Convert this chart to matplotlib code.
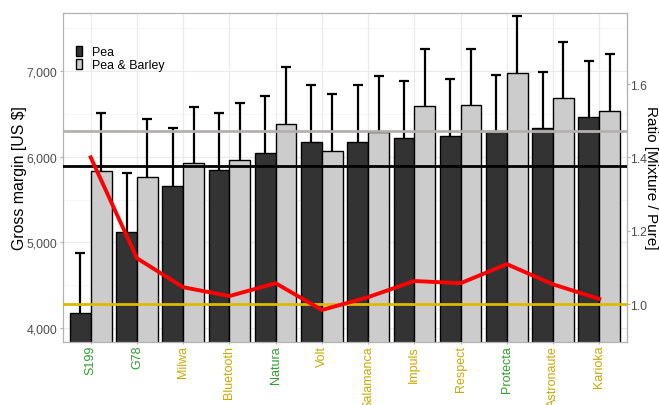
import matplotlib
matplotlib.use("Agg")
import matplotlib.pyplot as plt
import numpy as np

plt.rcParams["font.family"] = ["Liberation Sans", "DejaVu Sans"]

categories = ["S199", "G78", "Milwa", "Bluetooth", "Natura", "Volt",
              "Salamanca", "Impuls", "Respect", "Protecta", "Astronaute", "Karioka"]
label_colors = ["green", "green", "gold", "gold", "green", "gold",
                "gold", "gold", "gold", "green", "gold", "gold"]
pea_mean = [4176, 5121, 5658, 5845, 6043, 6171, 6171, 6218, 6242, 6300, 6335, 6463]
pea_err = [700, 690, 677, 665, 665, 666, 666, 665, 665, 653, 653, 654]
mix_mean = [5833, 5763, 5927, 5962, 6382, 6067, 6288, 6592, 6603, 6977, 6685, 6533]
mix_err = [677, 677, 653, 665, 665, 663, 654, 665, 654, 665, 653, 665]
ratio = [1.40, 1.125, 1.046, 1.022, 1.057, 0.984, 1.019, 1.063, 1.057, 1.109, 1.054, 1.014]
pea_avg = 5891
mix_avg = 6300
ratio_ref = 1.0
scale = 4280  # left = ratio * scale

col_map = {"green": "#2ca02c", "gold": "#c9a800"}

W, H = 659, 406
fig = plt.figure(figsize=(W / 100, H / 100), dpi=100)
ax = fig.add_axes([63 / W, 1 - 343 / H, (627 - 63) / W, (343 - 14) / H])

x = np.arange(1, len(categories) + 1)
w = 0.45

# grid
for yv in [4000, 5000, 6000, 7000]:
    ax.axhline(yv, color="#ebebeb", lw=0.9, zorder=0)
for yv in [4500, 5500, 6500, 7500]:
    ax.axhline(yv, color="#f5f5f5", lw=0.6, zorder=0)
for xv in x:
    ax.axvline(xv, color="#ebebeb", lw=0.9, zorder=0)

# error bars (drawn under bars)
ax.errorbar(x - w / 2, pea_mean, yerr=pea_err, fmt="none", ecolor="black",
            elinewidth=1.6, capsize=3.3, capthick=1.6, zorder=1)
ax.errorbar(x + w / 2, mix_mean, yerr=mix_err, fmt="none", ecolor="black",
            elinewidth=1.6, capsize=3.3, capthick=1.6, zorder=1)

ax.bar(x - w / 2, pea_mean, width=w, color="#333333", edgecolor="black",
       linewidth=1.0, zorder=2, label="Pea")
ax.bar(x + w / 2, mix_mean, width=w, color="#cccccc", edgecolor="black",
       linewidth=1.0, zorder=2, label="Pea & Barley")

ax.axhline(pea_avg, color="black", lw=2, zorder=3)
ax.axhline(mix_avg, color="#b5b0b0", lw=2, zorder=3)
ax.axhline(ratio_ref * scale, color="#e0b800", lw=2, zorder=3)
ax.plot(x, np.array(ratio) * scale, color="#ff0000", lw=2.8, zorder=4)

ax.set_xlim(0.4, 12.6)
ax.set_ylim(3838, 7677)
ax.set_yticks([4000, 5000, 6000, 7000])
ax.set_yticklabels(["4,000", "5,000", "6,000", "7,000"])
ax.set_xticks(x)
ax.set_xticklabels(categories, rotation=90, fontsize=9)
for lbl, c in zip(ax.get_xticklabels(), label_colors):
    lbl.set_color(col_map[c])
ax.tick_params(axis="y", labelsize=8.8, colors="#4d4d4d", length=2.5, width=0.8,
               color="#b3b3b3", pad=1.5)
ax.tick_params(axis="x", length=1.5, width=0.8, color="#b3b3b3", pad=0.5)
ax.set_ylabel("Gross margin [US $]", fontsize=11.4, color="black")
ax.yaxis.set_label_coords(20 / W, 1 - 178 / H, transform=fig.transFigure)
ax.yaxis.label.set_va("center")

for s in ax.spines.values():
    s.set_color("#b3b3b3")
    s.set_linewidth(0.9)

sec = ax.secondary_yaxis("right", functions=(lambda v: v / scale, lambda r: r * scale))
sec.set_yticks([1.0, 1.2, 1.4, 1.6])
sec.set_yticklabels(["1.0", "1.2", "1.4", "1.6"])
sec.tick_params(labelsize=8.8, colors="#4d4d4d", length=2, width=0.8, color="#b3b3b3",
                pad=0.5)
sec.spines["right"].set_color("#b3b3b3")
sec.set_ylabel("Ratio [Mixture / Pure]", fontsize=11, rotation=270, va="center")
sec.yaxis.set_label_coords(651 / W, 1 - 178 / H, transform=fig.transFigure)

leg = ax.legend(loc="upper left", bbox_to_anchor=(76 / W, 1 - 47 / H),
                bbox_transform=fig.transFigure, frameon=False,
                fontsize=8.9, handlelength=0.48, handleheight=0.85, handletextpad=0.8,
                labelspacing=0.05, borderaxespad=0, borderpad=0)

fig.savefig("out.png", dpi=100)
